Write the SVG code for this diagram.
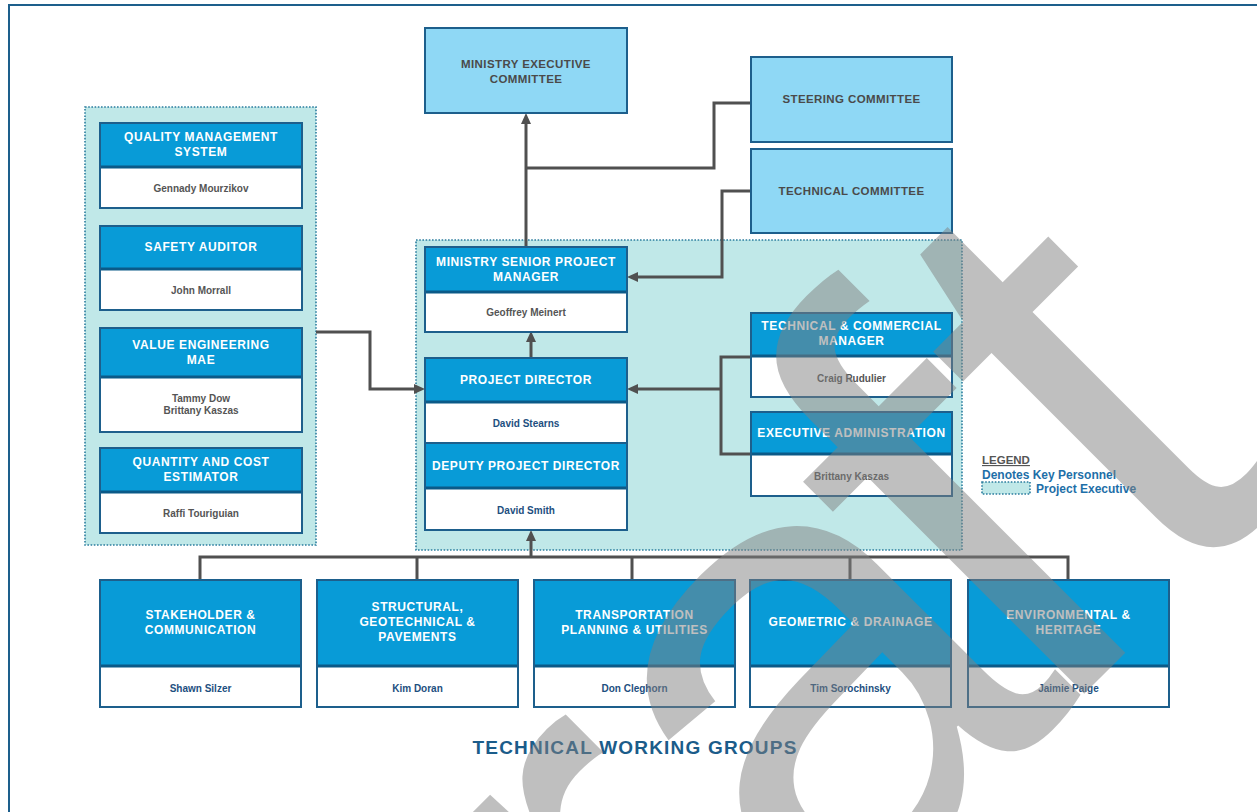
<svg xmlns="http://www.w3.org/2000/svg" width="1257" height="812" viewBox="0 0 1257 812">
<defs>
<style>
.frame{fill:#fff;stroke:#1d5f8c;stroke-width:2}
.panel{fill:#c0e8e8;stroke:#2b7d9e;stroke-width:1.6;stroke-dasharray:1.6 1.6}
.box{fill:#fff;stroke:#1d5f8c;stroke-width:2}
.hdr{fill:#089bd7}
.sep{stroke:#0b5a88;stroke-width:3}
.top{fill:#8fd8f5;stroke:#1d5f8c;stroke-width:2}
text{font-family:"Liberation Sans",Arial,sans-serif;font-weight:bold;text-anchor:middle}
.t{font-size:12px;fill:#fff;letter-spacing:0.6px}
.tt{font-size:11.5px;fill:#4a4a4a;letter-spacing:0.4px}
.n{font-size:10px;fill:#555}
.nb{font-size:10px;fill:#1d4f80}
.con{fill:none;stroke:#505050;stroke-width:3}
.arr{fill:none;stroke:#505050;stroke-width:3;marker-end:url(#ah)}
.wm{font-family:"Liberation Sans",Arial,sans-serif;font-weight:normal;font-size:660px;fill:#808080;fill-opacity:0.5;text-anchor:start}
</style>
<marker id="ah" markerWidth="11" markerHeight="10" refX="4" refY="5" orient="auto" markerUnits="userSpaceOnUse">
<path d="M0,0 L11,5 L0,10 z" fill="#505050"/>
</marker>
</defs>
<rect x="0" y="0" width="1257" height="812" fill="#fff"/>
<rect class="frame" x="9" y="5" width="1270" height="830"/>

<g id="panel-left"><rect class="panel" x="85" y="107" width="231" height="438"/></g>
<g id="panel-exec"><rect class="panel" x="416" y="240" width="546" height="310"/></g>

<g id="connectors">
<path class="arr" d="M526 247 V120"/>
<path class="con" d="M751 103 H714 V168 H526"/>
<path class="arr" d="M751 191 H722 V277 H634"/>
<path class="arr" d="M531 358 V338"/>
<path class="con" d="M751 357 H721 V454 H751"/>
<path class="arr" d="M721 389 H634"/>
<path class="arr" d="M316 332 H370 V389 H418"/>
<path class="con" d="M200 580 V557 H1068 V580"/>
<path class="con" d="M417 557 V580 M632 557 V580 M850 557 V580"/>
<path class="arr" d="M531 557 V537"/>
</g>

<g id="ministry-executive-committee">
<rect class="top" x="425" y="28" width="202" height="85"/>
<text class="tt" x="526" y="68">MINISTRY EXECUTIVE</text>
<text class="tt" x="526" y="83">COMMITTEE</text>
</g>
<g id="steering-committee">
<rect class="top" x="751" y="57" width="201" height="85"/>
<text class="tt" x="851.5" y="103">STEERING COMMITTEE</text>
</g>
<g id="technical-committee">
<rect class="top" x="751" y="149" width="201" height="84"/>
<text class="tt" x="851.5" y="195">TECHNICAL COMMITTEE</text>
</g>

<g id="quality-management">
<rect class="box" x="100" y="123" width="202" height="85"/>
<rect class="hdr" x="101" y="124" width="200" height="43"/>
<line class="sep" x1="101" y1="167" x2="301" y2="167"/>
<text class="t" x="201" y="141">QUALITY MANAGEMENT</text>
<text class="t" x="201" y="156">SYSTEM</text>
<text class="n" x="201" y="192">Gennady Mourzikov</text>
</g>
<g id="safety-auditor">
<rect class="box" x="100" y="226" width="202" height="84"/>
<rect class="hdr" x="101" y="227" width="200" height="42"/>
<line class="sep" x1="101" y1="269" x2="301" y2="269"/>
<text class="t" x="201" y="251">SAFETY AUDITOR</text>
<text class="n" x="201" y="294">John Morrall</text>
</g>
<g id="value-engineering">
<rect class="box" x="100" y="328" width="202" height="104"/>
<rect class="hdr" x="101" y="329" width="200" height="48"/>
<line class="sep" x1="101" y1="377" x2="301" y2="377"/>
<text class="t" x="201" y="349">VALUE ENGINEERING</text>
<text class="t" x="201" y="364">MAE</text>
<text class="n" x="201" y="402">Tammy Dow</text>
<text class="n" x="201" y="414">Brittany Kaszas</text>
</g>
<g id="quantity-cost">
<rect class="box" x="100" y="448" width="202" height="85"/>
<rect class="hdr" x="101" y="449" width="200" height="43"/>
<line class="sep" x1="101" y1="492" x2="301" y2="492"/>
<text class="t" x="201" y="466">QUANTITY AND COST</text>
<text class="t" x="201" y="481">ESTIMATOR</text>
<text class="n" x="201" y="517">Raffi Touriguian</text>
</g>

<g id="ministry-senior-pm">
<rect class="box" x="425" y="247" width="202" height="85"/>
<rect class="hdr" x="426" y="248" width="200" height="44"/>
<line class="sep" x1="426" y1="292" x2="626" y2="292"/>
<text class="t" x="526" y="266">MINISTRY SENIOR PROJECT</text>
<text class="t" x="526" y="281">MANAGER</text>
<text class="n" x="526" y="316">Geoffrey Meinert</text>
</g>
<g id="project-director">
<rect class="box" x="425" y="358" width="202" height="85"/>
<rect class="hdr" x="426" y="359" width="200" height="43"/>
<line class="sep" x1="426" y1="402" x2="626" y2="402"/>
<text class="t" x="526" y="384">PROJECT DIRECTOR</text>
<text class="nb" x="526" y="427">David Stearns</text>
</g>
<g id="deputy-project-director">
<rect class="box" x="425" y="443" width="202" height="87"/>
<rect class="hdr" x="426" y="444" width="200" height="44"/>
<line class="sep" x1="426" y1="488" x2="626" y2="488"/>
<text class="t" x="526" y="470">DEPUTY PROJECT DIRECTOR</text>
<text class="nb" x="526" y="514">David Smith</text>
</g>

<g id="technical-commercial-manager">
<rect class="box" x="751" y="313" width="201" height="84"/>
<rect class="hdr" x="752" y="314" width="199" height="42"/>
<line class="sep" x1="752" y1="356" x2="951" y2="356"/>
<text class="t" x="851.5" y="330">TECHNICAL &amp; COMMERCIAL</text>
<text class="t" x="851.5" y="345">MANAGER</text>
<text class="n" x="851.5" y="382">Craig Rudulier</text>
</g>
<g id="executive-administration">
<rect class="box" x="751" y="412" width="201" height="84"/>
<rect class="hdr" x="752" y="413" width="199" height="41"/>
<line class="sep" x1="752" y1="454" x2="951" y2="454"/>
<text class="t" x="851.5" y="437">EXECUTIVE ADMINISTRATION</text>
<text class="n" x="851.5" y="480">Brittany Kaszas</text>
</g>

<g id="stakeholder-communication">
<rect class="box" x="100" y="580" width="201" height="127"/>
<rect class="hdr" x="101" y="581" width="199" height="85"/>
<line class="sep" x1="101" y1="666" x2="300" y2="666"/>
<text class="t" x="200.5" y="619">STAKEHOLDER &amp;</text>
<text class="t" x="200.5" y="634">COMMUNICATION</text>
<text class="nb" x="200.5" y="692">Shawn Silzer</text>
</g>
<g id="structural">
<rect class="box" x="317" y="580" width="201" height="127"/>
<rect class="hdr" x="318" y="581" width="199" height="85"/>
<line class="sep" x1="318" y1="666" x2="517" y2="666"/>
<text class="t" x="417.5" y="611">STRUCTURAL,</text>
<text class="t" x="417.5" y="626">GEOTECHNICAL &amp;</text>
<text class="t" x="417.5" y="641">PAVEMENTS</text>
<text class="nb" x="417.5" y="692">Kim Doran</text>
</g>
<g id="transportation">
<rect class="box" x="534" y="580" width="201" height="127"/>
<rect class="hdr" x="535" y="581" width="199" height="85"/>
<line class="sep" x1="535" y1="666" x2="734" y2="666"/>
<text class="t" x="634.5" y="619">TRANSPORTATION</text>
<text class="t" x="634.5" y="634">PLANNING &amp; UTILITIES</text>
<text class="nb" x="634.5" y="692">Don Cleghorn</text>
</g>
<g id="geometric-drainage">
<rect class="box" x="750" y="580" width="201" height="127"/>
<rect class="hdr" x="751" y="581" width="199" height="85"/>
<line class="sep" x1="751" y1="666" x2="950" y2="666"/>
<text class="t" x="850.5" y="626">GEOMETRIC &amp; DRAINAGE</text>
<text class="nb" x="850.5" y="692">Tim Sorochinsky</text>
</g>
<g id="environmental-heritage">
<rect class="box" x="968" y="580" width="201" height="127"/>
<rect class="hdr" x="969" y="581" width="199" height="85"/>
<line class="sep" x1="969" y1="666" x2="1168" y2="666"/>
<text class="t" x="1068.5" y="619">ENVIRONMENTAL &amp;</text>
<text class="t" x="1068.5" y="634">HERITAGE</text>
<text class="nb" x="1068.5" y="692">Jaimie Paige</text>
</g>

<g id="title">
<text x="635" y="754" style="font-size:19px;fill:#1b5c8a;letter-spacing:1.2px">TECHNICAL WORKING GROUPS</text>
</g>

<g id="legend">
<text x="982" y="464" style="font-size:11.5px;fill:#555;text-anchor:start;text-decoration:underline">LEGEND</text>
<text x="982" y="479" style="font-size:12px;fill:#1e6fa8;text-anchor:start">Denotes Key Personnel</text>
<rect class="panel" x="982" y="482" width="48" height="12"/>
<text x="1036" y="493" style="font-size:12px;fill:#1e6fa8;text-anchor:start">Project Executive</text>
</g>

<g id="watermark">
<text class="wm" transform="translate(291,1487) rotate(-45)" x="55" dx="0 0 0 -55 0">Draft</text>
</g>
</svg>
